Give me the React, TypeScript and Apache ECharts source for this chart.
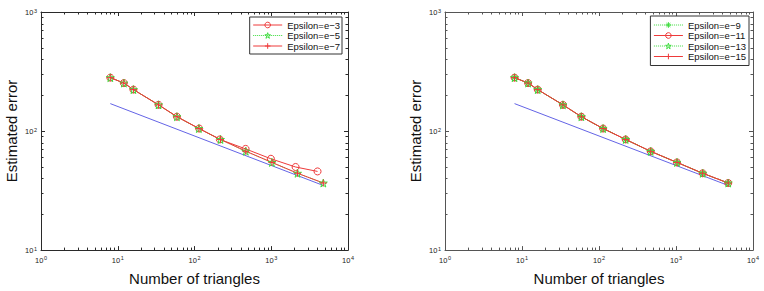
import React, { useEffect, useRef } from 'react';
import * as echarts from 'echarts';

// ---- data ----
const LEFT_E3_N = [8, 12, 16, 34, 59, 115, 214, 463, 988, 2075, 4010];
const LEFT_E3_ERR = [281, 253, 223, 166, 132, 105, 85, 70.8, 58.5, 49.9, 45.8];
const LEFT_E5_N = [8, 12, 16, 34, 59, 114, 218, 466, 1020, 2200, 4770];
const LEFT_E5_ERR = [281, 253, 223, 166, 132, 105, 85, 67.7, 54.5, 44.2, 36.6];
const LEFT_E7_N = [8, 12, 16, 34, 59, 114, 218, 466, 1020, 2200, 4770];
const LEFT_E7_ERR = [281, 253, 223, 166, 132, 105, 85, 67.7, 54.5, 44.2, 36.6];

const RIGHT_N = [8, 12, 16, 34, 59, 113, 222, 469, 1030, 2220, 4770];
const RIGHT_E9_ERR = [281, 253, 223, 166, 132, 105, 85, 67.5, 54.5, 44.2, 36.6];
const RIGHT_E11_ERR = [281, 253, 223, 166, 132, 105, 85, 67.5, 54.5, 44.2, 36.6];
const RIGHT_E13_ERR = [281, 253, 223, 166, 132, 105, 85, 67.5, 54.5, 44.2, 36.6];
const RIGHT_E15_ERR = [281, 253, 223, 166, 132, 105, 85, 67.5, 54.5, 44.2, 36.6];

const REF_N = [8, 4770];
const REF_ERR = [170, 34.9];

const LEFT_NAMES = ['Epsilon=e\u22123', 'Epsilon=e\u22125', 'Epsilon=e\u22127'];
const RIGHT_NAMES = ['Epsilon=e\u22129', 'Epsilon=e\u221211', 'Epsilon=e\u221213', 'Epsilon=e\u221215'];

const X_MIN = 1;
const X_MAX = 10000;
const Y_MIN = 10;
const Y_MAX = 1000;
const X_DECADES = [1, 10, 100, 1000];
const Y_DECADES = [10, 100];
const MINOR_MULTS = [2, 3, 4, 5, 6, 7, 8, 9];

const FONT = '"Liberation Sans", Arial, Helvetica, sans-serif';
const RED = '#ee3a3a';
const GREEN = '#3ddc3d';
const BLUE = '#6464e6';

const CROSS = 'path://M5,0L5,10M0,5L10,5';
const ASTER = 'path://M5,0L5,10M0,5L10,5M1.6,1.6L8.4,8.4M8.4,1.6L1.6,8.4';
const STAR =
  'path://M5,0L6.12,3.46L9.76,3.45L6.81,5.59L7.94,9.05L5,6.9L2.06,9.05L3.19,5.59L0.24,3.45L3.88,3.46Z';

const zip = (xs: number[], ys: number[]) => xs.map((x, i) => [x, ys[i]]);

const minorData = () => {
  const d: number[][] = [];
  X_DECADES.forEach((dec) => MINOR_MULTS.forEach((m) => d.push([m * dec, 100, 0])));
  Y_DECADES.forEach((dec) => MINOR_MULTS.forEach((m) => d.push([10, m * dec, 1])));
  return d;
};

const labelFmt = (v: number) => '{b|10}{s|' + Math.round(Math.log10(v)) + '}';
const rich = {
  b: { fontSize: 7.5, lineHeight: 9, verticalAlign: 'bottom', color: '#222', fontFamily: FONT },
  s: { fontSize: 5.5, lineHeight: 6, verticalAlign: 'top', padding: [0, 0, 5, 0.5], color: '#222', fontFamily: FONT },
};

function axesFor(gridIndex: number, axisColor: string) {
  const lineStyle = { color: axisColor, width: 1 };
  const tick = { show: true, inside: true, length: 4, lineStyle };
  const xAxes = [
    {
      type: 'log', logBase: 10, gridIndex, min: X_MIN, max: X_MAX, position: 'bottom',
      axisLine: { show: true, lineStyle }, axisTick: tick,
      axisLabel: { formatter: labelFmt, rich, margin: 5 },
      splitLine: { show: false },
      name: 'Number of triangles', nameLocation: 'middle', nameGap: 16,
      nameTextStyle: { fontSize: 15, color: '#111', fontFamily: FONT },
    },
    {
      type: 'log', logBase: 10, gridIndex, min: X_MIN, max: X_MAX, position: 'top',
      axisLine: { show: true, lineStyle }, axisTick: tick,
      axisLabel: { show: false }, splitLine: { show: false },
    },
  ];
  const yAxes = [
    {
      type: 'log', logBase: 10, gridIndex, min: Y_MIN, max: Y_MAX, position: 'left',
      axisLine: { show: true, lineStyle }, axisTick: tick,
      axisLabel: { formatter: labelFmt, rich, margin: 4 },
      splitLine: { show: false },
      name: 'Estimated error', nameLocation: 'middle', nameGap: 22, nameRotate: 90,
      nameTextStyle: { fontSize: 15, color: '#111', fontFamily: FONT },
    },
    {
      type: 'log', logBase: 10, gridIndex, min: Y_MIN, max: Y_MAX, position: 'right',
      axisLine: { show: true, lineStyle }, axisTick: tick,
      axisLabel: { show: false }, splitLine: { show: false },
    },
  ];
  return { xAxes, yAxes };
}

function minorSeries(axisIndex: number, color: string) {
  return {
    type: 'custom', xAxisIndex: axisIndex, yAxisIndex: axisIndex, silent: true, clip: false,
    data: minorData(), encode: { x: 0, y: 1 }, z: 1,
    renderItem: (params: any, api: any) => {
      const cs = params.coordSys;
      const kind = api.value(2);
      const p = api.coord([api.value(0), api.value(1)]);
      const L = 2.5;
      const st = { stroke: color, lineWidth: 1 };
      if (kind === 0) {
        const x = Math.round(p[0]) + 0.5;
        return {
          type: 'group', children: [
            { type: 'line', shape: { x1: x, y1: cs.y + cs.height, x2: x, y2: cs.y + cs.height - L }, style: st },
            { type: 'line', shape: { x1: x, y1: cs.y, x2: x, y2: cs.y + L }, style: st },
          ],
        };
      }
      const y = Math.round(p[1]) + 0.5;
      return {
        type: 'group', children: [
          { type: 'line', shape: { x1: cs.x, y1: y, x2: cs.x + L, y2: y }, style: st },
          { type: 'line', shape: { x1: cs.x + cs.width, y1: y, x2: cs.x + cs.width - L, y2: y }, style: st },
        ],
      };
    },
  };
}

function lineSeries(name: string, idx: number, data: number[][], color: string, dotted: boolean, symbol: string, size: number) {
  return {
    type: 'line', name, xAxisIndex: idx, yAxisIndex: idx, data,
    symbol, symbolSize: size, showSymbol: true,
    lineStyle: { color, width: 1, type: dotted ? 'dotted' : 'solid' },
    itemStyle: { color: 'transparent', borderColor: color, borderWidth: 1 },
    emphasis: { disabled: true }, z: 3,
  };
}

export default function App() {
  const ref = useRef<HTMLDivElement>(null);
  useEffect(() => {
    if (!ref.current) return;
    const chart = echarts.init(ref.current, undefined, { renderer: 'svg' });
    const a = axesFor(0, '#2a2a2a');
    const b = axesFor(1, '#555');
    const legendCommon = {
      orient: 'vertical', align: 'left', itemWidth: 29, itemHeight: 7,
      backgroundColor: '#fff', borderColor: '#333', borderWidth: 1, borderRadius: 0,
      textStyle: { fontSize: 9.5, color: '#111', fontFamily: FONT, lineHeight: 10 },
      lineStyle: { width: 1 },
      itemStyle: { color: 'transparent', borderWidth: 1 },
      selectedMode: false,
    };
    chart.setOption({
      animation: false,
      backgroundColor: '#fff',
      textStyle: { fontFamily: FONT },
      grid: [
        { left: 41, top: 12, width: 307, height: 242 },
        { left: 445, top: 12, width: 308, height: 242 },
      ],
      xAxis: [...a.xAxes, ...b.xAxes],
      yAxis: [...a.yAxes, ...b.yAxes],
      legend: [
        { ...legendCommon, data: LEFT_NAMES, right: 422, top: 17, itemGap: 0.5, padding: [3, 2, 3, 3] },
        { ...legendCommon, data: RIGHT_NAMES, right: 15, top: 16, itemGap: 0.5, padding: [4, 3, 4, 3] },
      ],
      series: [
        minorSeries(0, '#2a2a2a'),
        minorSeries(2, '#555'),
        { type: 'line', name: 'refL', xAxisIndex: 0, yAxisIndex: 0, data: zip(REF_N, REF_ERR), symbol: 'none', lineStyle: { color: BLUE, width: 1 }, z: 2 },
        { type: 'line', name: 'refR', xAxisIndex: 2, yAxisIndex: 2, data: zip(REF_N, REF_ERR), symbol: 'none', lineStyle: { color: BLUE, width: 1 }, z: 2 },
        lineSeries(LEFT_NAMES[0], 0, zip(LEFT_E3_N, LEFT_E3_ERR), RED, false, 'circle', 7),
        lineSeries(LEFT_NAMES[1], 0, zip(LEFT_E5_N, LEFT_E5_ERR), GREEN, true, STAR, 8),
        lineSeries(LEFT_NAMES[2], 0, zip(LEFT_E7_N, LEFT_E7_ERR), RED, false, CROSS, 7),
        lineSeries(RIGHT_NAMES[0], 2, zip(RIGHT_N, RIGHT_E9_ERR), GREEN, true, ASTER, 7),
        lineSeries(RIGHT_NAMES[1], 2, zip(RIGHT_N, RIGHT_E11_ERR), RED, false, 'circle', 7),
        lineSeries(RIGHT_NAMES[2], 2, zip(RIGHT_N, RIGHT_E13_ERR), GREEN, true, STAR, 8),
        lineSeries(RIGHT_NAMES[3], 2, zip(RIGHT_N, RIGHT_E15_ERR), RED, false, CROSS, 7),
      ],
    });
    return () => chart.dispose();
  }, []);
  return (
    <div
      ref={ref}
      style={{ position: 'absolute', left: 0, top: 0, width: 764, height: 291, background: '#fff' }}
    />
  );
}
